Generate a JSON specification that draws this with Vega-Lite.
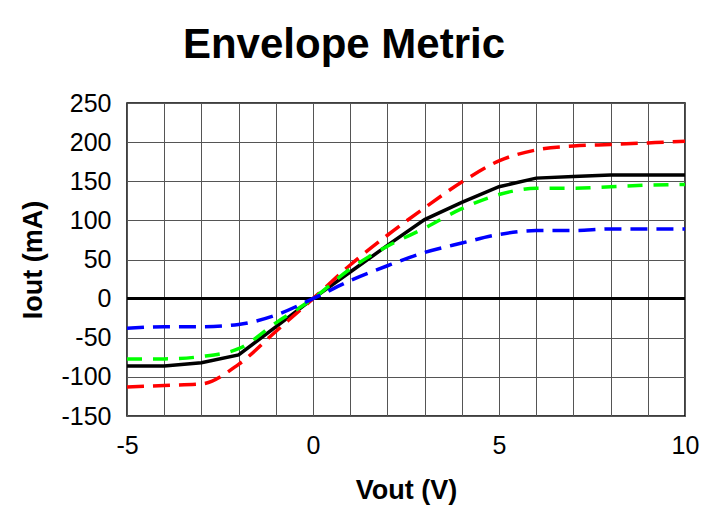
{
  "$schema": "https://vega.github.io/schema/vega-lite/v6.json",
  "width": 558,
  "height": 313,
  "autosize": "none",
  "padding": {"left": 127, "top": 103, "right": 30, "bottom": 97},
  "background": "white",
  "title": {
    "text": "Envelope Metric",
    "font": "Liberation Sans",
    "fontSize": 42,
    "fontWeight": "bold",
    "color": "black",
    "anchor": "middle",
    "frame": "group",
    "dx": -62,
    "offset": 24
  },
  "config": {
    "font": "Liberation Sans",
    "view": {"stroke": "black", "strokeWidth": 1.5},
    "axis": {
      "labelFont": "Liberation Sans",
      "labelFontSize": 25,
      "labelColor": "black",
      "titleFont": "Liberation Sans",
      "titleFontSize": 27,
      "titleFontWeight": "bold",
      "titleColor": "black",
      "domain": false,
      "ticks": false,
      "gridColor": "#555555",
      "gridOpacity": 1,
      "gridWidth": 1
    }
  },
  "data": {
    "values": [
      {"x": -5, "y": -86, "s": "A"}, {"x": -4, "y": -86, "s": "A"}, {"x": -3, "y": -82, "s": "A"}, {"x": -2, "y": -72, "s": "A"},
      {"x": -1, "y": -36, "s": "A"}, {"x": 0, "y": 0, "s": "A"}, {"x": 1, "y": 34, "s": "A"}, {"x": 2, "y": 68, "s": "A"},
      {"x": 3, "y": 101, "s": "A"}, {"x": 4, "y": 123, "s": "A"}, {"x": 5, "y": 143, "s": "A"}, {"x": 6, "y": 154, "s": "A"},
      {"x": 7, "y": 156, "s": "A"}, {"x": 8, "y": 158, "s": "A"}, {"x": 9, "y": 158, "s": "A"}, {"x": 10, "y": 158, "s": "A"},

      {"x": -5, "y": -113, "s": "B"}, {"x": -4, "y": -111, "s": "B"}, {"x": -3, "y": -109, "s": "B"}, {"x": -2, "y": -84, "s": "B"},
      {"x": -1, "y": -42, "s": "B"}, {"x": 0, "y": 0, "s": "B"}, {"x": 1, "y": 43, "s": "B"}, {"x": 2, "y": 81, "s": "B"},
      {"x": 3, "y": 116, "s": "B"}, {"x": 4, "y": 149, "s": "B"}, {"x": 5, "y": 176, "s": "B"}, {"x": 6, "y": 190, "s": "B"},
      {"x": 7, "y": 195, "s": "B"}, {"x": 8, "y": 197, "s": "B"}, {"x": 9, "y": 199, "s": "B"}, {"x": 10, "y": 201, "s": "B"},

      {"x": -5, "y": -77, "s": "C"}, {"x": -4, "y": -77, "s": "C"}, {"x": -3, "y": -74, "s": "C"}, {"x": -2, "y": -64, "s": "C"},
      {"x": -1, "y": -31, "s": "C"}, {"x": 0, "y": 0, "s": "C"}, {"x": 1, "y": 38, "s": "C"}, {"x": 2, "y": 67, "s": "C"},
      {"x": 3, "y": 90, "s": "C"}, {"x": 4, "y": 115, "s": "C"}, {"x": 5, "y": 133, "s": "C"}, {"x": 6, "y": 141, "s": "C"},
      {"x": 7, "y": 141, "s": "C"}, {"x": 8, "y": 143, "s": "C"}, {"x": 9, "y": 145, "s": "C"}, {"x": 10, "y": 146, "s": "C"},

      {"x": -5, "y": -38, "s": "D"}, {"x": -4, "y": -36, "s": "D"}, {"x": -3, "y": -36, "s": "D"}, {"x": -2, "y": -33, "s": "D"},
      {"x": -1, "y": -21, "s": "D"}, {"x": 0, "y": 0, "s": "D"}, {"x": 1, "y": 23, "s": "D"}, {"x": 2, "y": 42, "s": "D"},
      {"x": 3, "y": 59, "s": "D"}, {"x": 4, "y": 71, "s": "D"}, {"x": 5, "y": 82, "s": "D"}, {"x": 6, "y": 87, "s": "D"},
      {"x": 7, "y": 87, "s": "D"}, {"x": 8, "y": 89, "s": "D"}, {"x": 9, "y": 89, "s": "D"}, {"x": 10, "y": 89, "s": "D"}
    ]
  },
  "encoding": {
    "x": {
      "field": "x",
      "type": "quantitative",
      "scale": {"domain": [-5, 10], "nice": false, "zero": false},
      "axis": {
        "title": "Vout (V)",
        "values": [-5, -4, -3, -2, -1, 0, 1, 2, 3, 4, 5, 6, 7, 8, 9, 10],
        "labelExpr": "datum.value % 5 === 0 ? '' + datum.value : ''",
        "labelPadding": 17,
        "titlePadding": 19,
        "labelFlush": false
      }
    },
    "y": {
      "field": "y",
      "type": "quantitative",
      "scale": {"domain": [-150, 250], "nice": false, "zero": false},
      "axis": {
        "title": "Iout (mA)",
        "values": [-150, -100, -50, 0, 50, 100, 150, 200, 250],
        "labelExpr": "'' + datum.value",
        "labelPadding": 16,
        "titlePadding": 13,
        "labelFlush": false
      }
    }
  },
  "layer": [
    {
      "mark": {"type": "rule", "color": "black", "strokeWidth": 2.5},
      "encoding": {"y": {"datum": 0}, "x": {"value": 0}, "x2": {"value": 558}}
    },
    {
      "transform": [{"filter": "datum.s === 'A'"}],
      "mark": {"type": "line", "color": "black", "strokeWidth": 3.5, "interpolate": "linear"}
    },
    {
      "transform": [{"filter": "datum.s === 'B'"}],
      "mark": {"type": "line", "color": "#ff0000", "strokeWidth": 3.5, "strokeDash": [17, 9], "interpolate": "monotone"}
    },
    {
      "transform": [{"filter": "datum.s === 'C'"}],
      "mark": {"type": "line", "color": "#00ff00", "strokeWidth": 3.5, "strokeDash": [15, 11], "interpolate": "monotone"}
    },
    {
      "transform": [{"filter": "datum.s === 'D'"}],
      "mark": {"type": "line", "color": "#0000ff", "strokeWidth": 3.5, "strokeDash": [17, 9], "interpolate": "monotone"}
    }
  ]
}
